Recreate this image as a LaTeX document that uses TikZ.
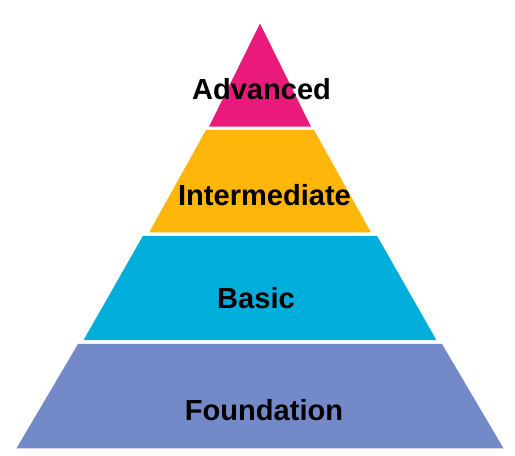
\documentclass[tikz,border=0pt]{standalone}
\usepackage{fontspec}
\setmainfont{Liberation Sans}
\usetikzlibrary{positioning}
\usetikzlibrary{calc}
\definecolor{advpink}{HTML}{E91A7B}
\definecolor{midyellow}{HTML}{FEB60B}
\definecolor{basicblue}{HTML}{00AEDB}
\definecolor{foundslate}{HTML}{7489C8}
\tikzset{
  levellabel/.style={font=\fontsize{21.8}{26}\selectfont\bfseries, inner sep=0pt, text=black},
}

\begin{document}
\begin{tikzpicture}[x=0.75pt,y=-0.75pt]
    \def\midx{260}

    \useasboundingbox (0,0) rectangle (515,456);

    % layers: colour / top y / top half-width / bottom y / bottom half-width
    \foreach \col/\ya/\wa/\yb/\wb in {advpink/23.5/0/126.7/51,
                                      midyellow/130/54/232.5/111,
                                      basicblue/235.8/117/340.2/176.5,
                                      foundslate/344/182/448.3/243.5} {
      \fill[\col] (\midx-\wa,\ya) -- (\midx+\wa,\ya) -- (\midx+\wb,\yb) -- (\midx-\wb,\yb) -- cycle;
    }

    \node[levellabel] (advanced) at (261.5,89) {Advanced};
    \node[levellabel] (intermediate) at (264.5,195) {Intermediate};
    \node[levellabel] (basic) at (256,298) {Basic};
    \node[levellabel] (foundation) at (264,410) {Foundation};
  \end{tikzpicture}
\end{document}
